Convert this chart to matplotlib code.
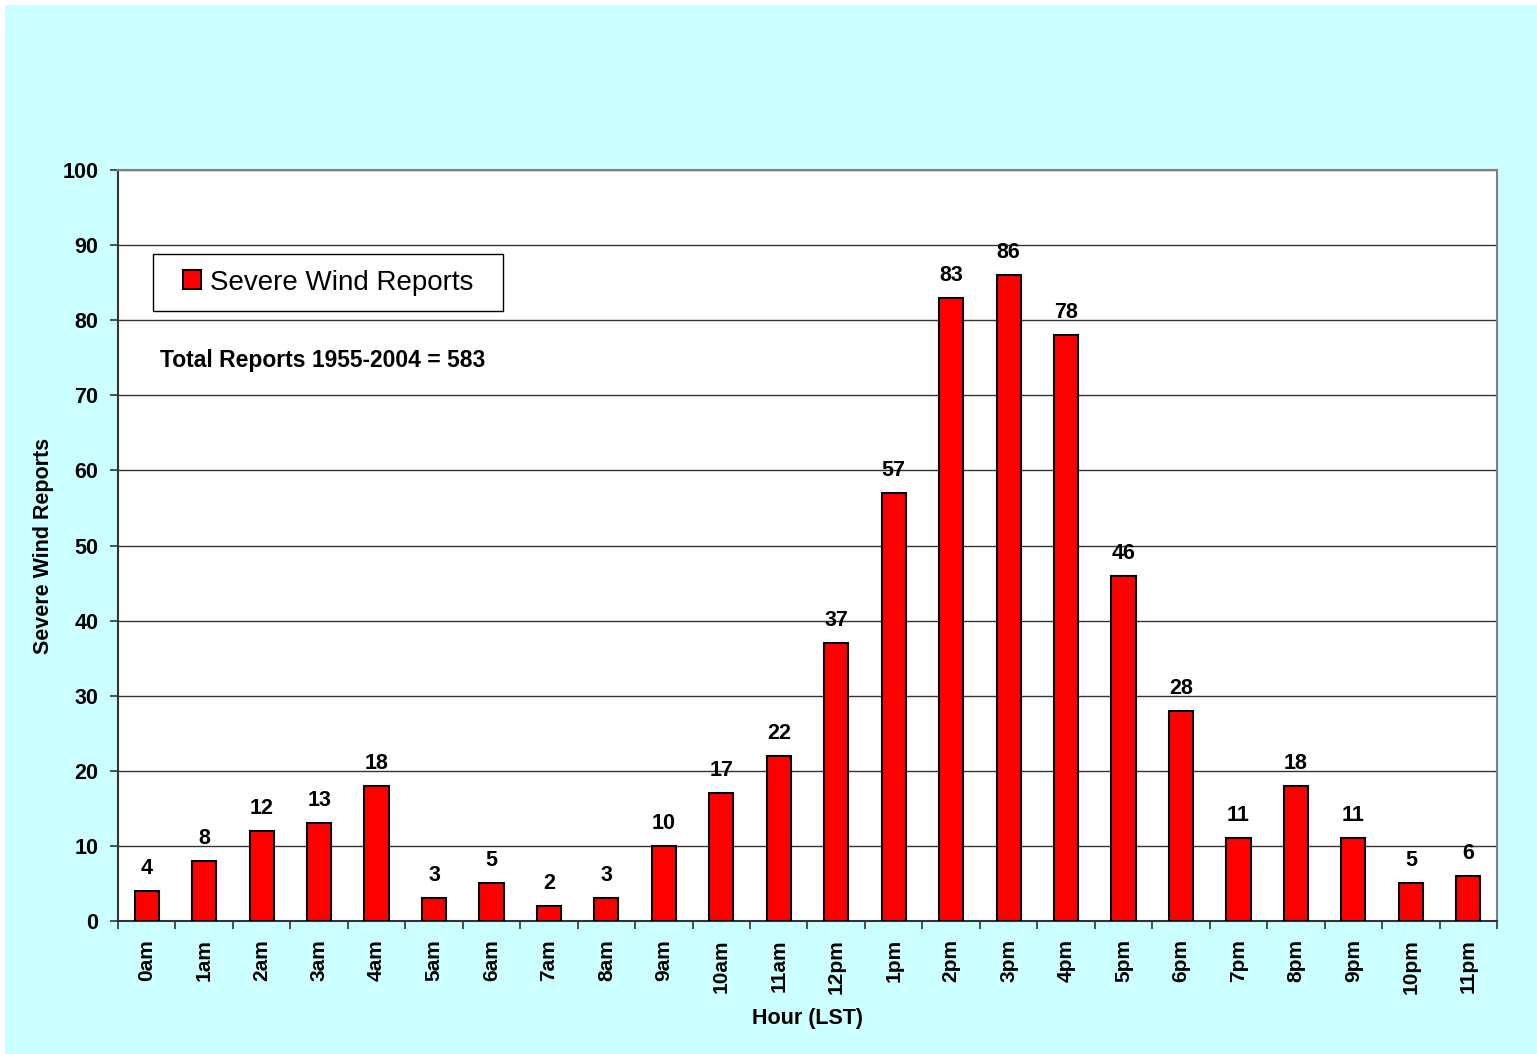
import matplotlib
matplotlib.use("Agg")
import matplotlib.pyplot as plt
from matplotlib.patches import Rectangle

hours = ["0am", "1am", "2am", "3am", "4am", "5am", "6am", "7am", "8am", "9am",
         "10am", "11am", "12pm", "1pm", "2pm", "3pm", "4pm", "5pm", "6pm", "7pm",
         "8pm", "9pm", "10pm", "11pm"]
reports = [4, 8, 12, 13, 18, 3, 5, 2, 3, 10, 17, 22, 37, 57, 83, 86, 78, 46, 28, 11,
           18, 11, 5, 6]
series_name = "Severe Wind Reports"
note = "Total Reports 1955-2004 = 583"

CYAN = "#ccffff"
plt.rcParams["font.family"] = ["Liberation Sans", "DejaVu Sans"]

fig = plt.figure(figsize=(15.37, 10.54), dpi=100, facecolor="white")
fig.patches.append(Rectangle((5 / 1537, 0), 1 - 5 / 1537, 1 - 5 / 1054,
                             transform=fig.transFigure, fc=CYAN, ec="none", zorder=-10))
AW, AH = 1497 - 118, 921 - 170
ax = fig.add_axes([118 / 1537, 1 - 921 / 1054, AW / 1537, AH / 1054])
ax.set_facecolor("white")

x = list(range(len(hours)))
ax.bar(x, reports, width=0.42, color="#ff0000", edgecolor="black", lw=1.5,
       label=series_name, zorder=3)
for xi, v in zip(x, reports):
    ax.text(xi, v + 1.6, str(v), ha="center", va="bottom", fontsize=15.5,
            fontweight="bold", zorder=4)

ax.set_xlim(-0.5, len(hours) - 0.5)
ax.set_ylim(0, 100)
ax.set_yticks(range(0, 101, 10))
ax.set_yticklabels([str(v) for v in range(0, 101, 10)], fontsize=15.5, fontweight="bold")
ax.set_xticks(x)
ax.set_xticklabels(hours, rotation=90, fontsize=15, fontweight="bold")
ax.set_xticks([i - 0.5 for i in range(len(hours) + 1)], minor=True)
ax.tick_params(axis="x", which="major", length=0, pad=13)
ax.tick_params(axis="x", which="minor", length=6, width=1.2, color="#333333")
ax.tick_params(axis="y", length=6, width=1.2, color="#333333", pad=8)
ax.grid(axis="y", color="#333333", lw=1, zorder=0)

for s in ["top", "right"]:
    ax.spines[s].set_color("#808080")
    ax.spines[s].set_linewidth(1.5)
for s in ["left", "bottom"]:
    ax.spines[s].set_color("#333333")
    ax.spines[s].set_linewidth(1.5)

ax.set_xlabel("Hour (LST)", fontsize=15.5, fontweight="bold", labelpad=10)
ax.set_ylabel(series_name, fontsize=15.5, fontweight="bold", labelpad=6)

# legend frame drawn separately so it can be wider than the content
bx0, bx1, by0, by1 = 153 - 118, 503 - 118, 254 - 170, 311 - 170
ax.add_patch(Rectangle((bx0 / AW, 1 - by1 / AH), (bx1 - bx0) / AW, (by1 - by0) / AH,
                       transform=ax.transAxes, fc="white", ec="black", lw=1, zorder=5))
leg = ax.legend(loc="center", bbox_to_anchor=((bx0 + bx1) / 2 / AW, 1 - (by0 + by1) / 2 / AH),
                fontsize=20, frameon=False, handlelength=0.65, handleheight=0.65,
                handletextpad=0.3, borderpad=0, borderaxespad=0)
leg.set_zorder(6)
ax.text(42 / AW, 1 - 190 / AH, note, transform=ax.transAxes, fontsize=16.5,
        fontweight="bold", va="center", ha="left")

fig.savefig("out.png", dpi=100, facecolor=fig.get_facecolor())
